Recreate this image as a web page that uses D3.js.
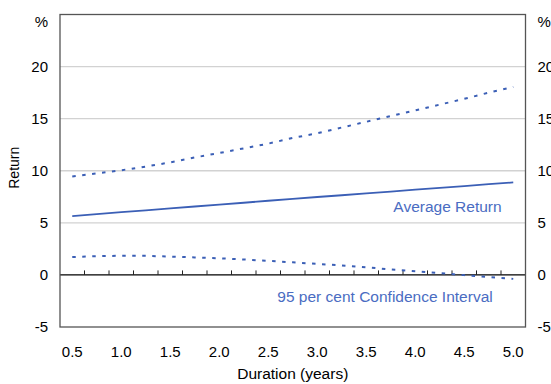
<!DOCTYPE html>
<html>
<head>
<meta charset="utf-8">
<script src="https://cdn.jsdelivr.net/npm/d3@7"></script>
<style>
  body { margin: 0; background: #fff; }
  text { font-family: "Liberation Sans", Arial, sans-serif; }
</style>
</head>
<body>
<div id="vis1"></div>
<script>
const durations = [0.5, 0.75, 1.0, 1.25, 1.5, 1.75, 2.0, 2.25, 2.5, 2.75, 3.0, 3.25, 3.5, 3.75, 4.0, 4.25, 4.5, 4.75, 5.0];
const averageReturn = [5.65, 5.83, 6.02, 6.2, 6.38, 6.57, 6.75, 6.93, 7.12, 7.3, 7.48, 7.65, 7.83, 8.0, 8.18, 8.36, 8.53, 8.71, 8.88];
const upperBound = [9.45, 9.75, 10.05, 10.4, 10.8, 11.28, 11.7, 12.15, 12.6, 13.15, 13.6, 14.15, 14.7, 15.25, 15.8, 16.35, 16.9, 17.5, 18.05];
const lowerBound = [1.72, 1.8, 1.84, 1.83, 1.76, 1.68, 1.6, 1.48, 1.35, 1.21, 1.06, 0.91, 0.74, 0.52, 0.36, 0.17, -0.02, -0.2, -0.38];
const yTicks = [-5, 0, 5, 10, 15, 20];
const xLabels = ["0.5", "1.0", "1.5", "2.0", "2.5", "3.0", "3.5", "4.0", "4.5", "5.0"];

const margin = {top: 14.5, right: 25.5, bottom: 57, left: 60};
const W = 551, H = 384;
const width = W - margin.left - margin.right;
const height = H - margin.top - margin.bottom;
const blue = "#3b5fb6";
const textBlue = "#4a6cc2";
const font = '"Liberation Sans", Arial, sans-serif';

const svg = d3.select('#vis1')
  .append('svg')
    .attr("width", W)
    .attr("height", H)
  .append("g")
    .attr("transform", `translate(${margin.left},${margin.top})`);

const x = d3.scaleBand()
  .domain(durations)
  .range([0, width]);

const y = d3.scaleLinear()
  .domain([-5, 25])
  .range([height, 0]);

// gridlines
svg.append("g")
  .selectAll("line")
  .data(yTicks.filter(d => d > 0))
  .join("line")
    .attr("x1", 0).attr("x2", width)
    .attr("y1", d => y(d)).attr("y2", d => y(d))
    .attr("stroke", "#d2d2d2")
    .attr("stroke-width", 1.3);

// zero line
svg.append("line")
  .attr("x1", 0).attr("x2", width)
  .attr("y1", y(0)).attr("y2", y(0))
  .attr("stroke", "#000")
  .attr("stroke-width", 1.2);

// ticks on zero line at band boundaries
svg.append("g")
  .selectAll("line")
  .data(durations.slice(1))
  .join("line")
    .attr("x1", d => x(d)).attr("x2", d => x(d))
    .attr("y1", y(0)).attr("y2", y(0) - 4.5)
    .attr("stroke", "#222")
    .attr("stroke-width", 1);

// frame
svg.append("rect")
  .attr("x", 0).attr("y", 0)
  .attr("width", width).attr("height", height)
  .attr("fill", "none")
  .attr("stroke", "#555")
  .attr("stroke-width", 1.3);

// y labels on both sides
const fmtY = d => d < 0 ? "-" + Math.abs(d) : String(d);
const yAxisL = d3.axisLeft(y).tickValues(yTicks).tickFormat(fmtY).tickSize(0).tickPadding(12);
const gl = svg.append("g").call(yAxisL);
gl.select(".domain").remove();
gl.selectAll("text").style("font-size", "15px").attr("fill", "#000").style("font-family", font);

const yAxisR = d3.axisRight(y).tickValues(yTicks).tickFormat(fmtY).tickSize(0).tickPadding(12);
const gr = svg.append("g").attr("transform", `translate(${width},0)`).call(yAxisR);
gr.select(".domain").remove();
gr.selectAll("text").style("font-size", "15px").attr("fill", "#000").style("font-family", font);

svg.append("text").attr("x", -12).attr("y", 12.5).attr("text-anchor", "end")
  .style("font-size", "15px").text("%");
svg.append("text").attr("x", width + 12).attr("y", 12.5)
  .style("font-size", "15px").text("%");

// x labels
const xAxis = d3.axisBottom(x)
  .tickValues(durations.filter(d => xLabels.includes(d.toFixed(1)) && (d * 2) % 1 === 0))
  .tickFormat(d => d.toFixed(1))
  .tickSize(0).tickPadding(19);
const gx = svg.append("g").attr("transform", `translate(0,${height})`).call(xAxis);
gx.select(".domain").remove();
gx.selectAll("text").style("font-size", "15px").attr("fill", "#000").style("font-family", font);

svg.append("text")
  .attr("x", width / 2).attr("y", height + 52)
  .attr("text-anchor", "middle")
  .style("font-size", "15.5px")
  .text("Duration (years)");

svg.append("text")
  .attr("transform", `translate(-41,${height / 2 - 3}) rotate(-90)`)
  .attr("text-anchor", "middle")
  .style("font-size", "14px")
  .text("Return");

// lines
const line = d3.line()
  .x((d, i) => x(durations[i]) + x.bandwidth() / 2)
  .y(d => y(d));

svg.append("path").datum(upperBound).attr("d", line)
  .attr("fill", "none").attr("stroke", blue).attr("stroke-width", 2)
  .attr("stroke-dasharray", "3.5,6.5");
svg.append("path").datum(lowerBound).attr("d", line)
  .attr("fill", "none").attr("stroke", blue).attr("stroke-width", 2)
  .attr("stroke-dasharray", "3.5,6.5");
svg.append("path").datum(averageReturn).attr("d", line)
  .attr("fill", "none").attr("stroke", blue).attr("stroke-width", 1.8);

// series labels
svg.append("text")
  .attr("x", 447.5 - margin.left).attr("y", 212 - margin.top)
  .attr("text-anchor", "middle")
  .style("font-size", "15.5px").attr("fill", textBlue)
  .text("Average Return");
svg.append("text")
  .attr("x", 385 - margin.left).attr("y", 302 - margin.top)
  .attr("text-anchor", "middle")
  .style("font-size", "15.5px").attr("fill", textBlue)
  .text("95 per cent Confidence Interval");
</script>
</body>
</html>
